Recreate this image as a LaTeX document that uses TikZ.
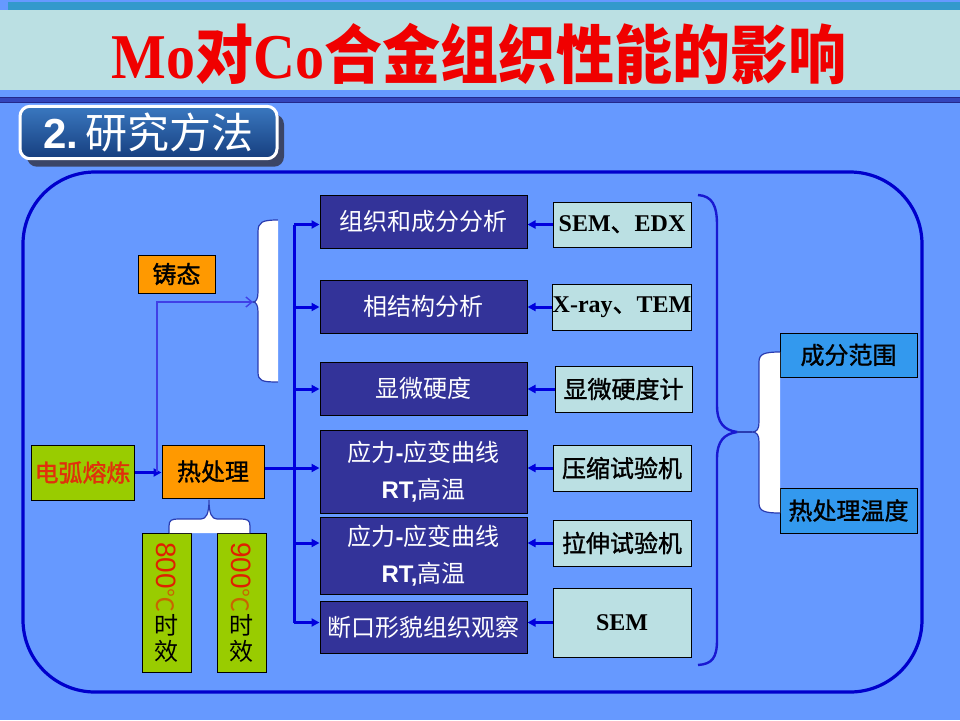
\documentclass[tikz,border=0pt]{standalone}
\usepackage{graphicx}
\usepackage{fontspec}
\setmainfont{Liberation Serif}
\setsansfont{Liberation Sans}
\newfontfamily\cjk{Noto Sans CJK SC}
\newfontfamily\cjkheavy[RawFeature={embolden=1.3}]{Noto Sans CJK SC}
\usetikzlibrary{arrows.meta,positioning,shadows}

\definecolor{slidebg}{HTML}{6699FF}
\definecolor{barcyan}{HTML}{BBE0E3}
\definecolor{bandteal}{HTML}{3399CC}
\definecolor{rulenavy}{HTML}{23288A}
\definecolor{rulemid}{HTML}{3344BB}
\definecolor{titlered}{HTML}{F00000}
\definecolor{darkfill}{HTML}{333399}
\definecolor{lightfill}{HTML}{BBE0E3}
\definecolor{skyfill}{HTML}{3399EE}
\definecolor{orangefill}{HTML}{FF9900}
\definecolor{limefill}{HTML}{99CC00}
\definecolor{linkblue}{HTML}{0000DD}
\definecolor{frameblue}{HTML}{0000CC}
\definecolor{rimblue}{HTML}{2A3CB0}
\definecolor{meltred}{HTML}{E0300C}
\definecolor{digitred}{HTML}{E02000}
\definecolor{degorange}{HTML}{C86400}
\definecolor{methodtop}{HTML}{3A78C0}
\definecolor{methodbot}{HTML}{163E7E}
\definecolor{methodshade}{HTML}{3B4566}

\begin{document}
\begin{tikzpicture}[
  x=0.5pt, y=-0.5pt,
  box/.style={draw=black, line width=0.5pt, inner sep=0pt, align=center},
  darkbox/.style={box, fill=darkfill, text=white, minimum width=103.5pt, font=\cjk\fontsize{12}{18.5}\selectfont},
  toolbox/.style={box, fill=lightfill, text=black, minimum width=69pt, minimum height=23pt, font=\cjkheavy\fontsize{12}{14}\selectfont},
  rangebox/.style={box, fill=skyfill, text=black, minimum width=68.5pt, minimum height=22.5pt, font=\cjkheavy\fontsize{12}{14}\selectfont},
  stagebox/.style={box, fill=orangefill, font=\cjkheavy\fontsize{12}{14}\selectfont},
  agebox/.style={box, fill=limefill, minimum width=24.5pt, minimum height=69.5pt, font=\cjk\fontsize{12}{13}\selectfont},
  arrow/.style={-{Triangle[length=4pt,width=4pt]}, draw=linkblue, line width=1.5pt},
  busline/.style={draw=linkblue, line width=1.5pt},
  thinarrow/.style={-{Straight Barb[length=3pt,width=5pt]}, draw=linkblue!75!white, line width=0.7pt},
  rimline/.style={draw=rimblue, line width=0.6pt, fill=white},
  braceline/.style={draw=frameblue!90!white, line width=1.2pt}
]
\useasboundingbox (0,0) rectangle (960,720);
% slide background and title bar
\fill[slidebg] (0,0) rectangle (960,720);
\fill[barcyan] (0,10) rectangle (960,90);
\fill[bandteal] (8,2) rectangle (960,10);
\fill[rulemid] (0,97) rectangle (960,103);
\draw[rulenavy, line width=0.6pt] (0,97.5) -- (960,97.5) (0,102.5) -- (960,102.5);

\node[inner sep=0pt, text=titlered, font=\cjk\bfseries\fontsize{29}{34}\selectfont] (title) at (479,54)
  {\scalebox{1}[1.1]{{\rmfamily Mo}对{\rmfamily Co}合金组织性能的影响}};

\node[draw=white, line width=1.5pt, rounded corners=5pt, top color=methodtop, bottom color=methodbot,
  minimum width=128.5pt, minimum height=24.5pt, text=white,
  general shadow={fill=methodshade, shadow xshift=3.5pt, shadow yshift=-4pt}] (method) at (148.5,132.5)
  {\fontsize{21}{24}\selectfont{\sffamily\bfseries 2.}\,{\cjk 研究方法}};

% outer frame
\draw[frameblue, line width=1.6pt, rounded corners=36pt] (23,172) rectangle (922,692);

% preparation
\node[box, fill=limefill, text=meltred, minimum width=51.5pt, minimum height=27.5pt,
  font=\cjkheavy\fontsize{12}{14}\selectfont] (melt) at (82.5,472.5) {电弧熔炼};
\node[stagebox, minimum width=38.5pt, minimum height=19pt] (cast) at (176.5,274) {铸态};
\node[stagebox, minimum width=51pt, minimum height=26.5pt] (heat) at (213,471.5) {热处理};
\node[agebox] (age800) at (166.5,602.5)
  {\rotatebox{-90}{{\sffamily\fontsize{14}{14}\selectfont\color{digitred}800}{\color{degorange}℃}}\\时\\效};
\node[agebox] (age900) at (241.5,602.5)
  {\rotatebox{-90}{{\sffamily\fontsize{14}{14}\selectfont\color{digitred}900}{\color{degorange}℃}}\\时\\效};

% tests
\node[darkbox, minimum height=26.5pt] (org) at (423.5,221.5) {组织和成分分析};
\node[darkbox, minimum height=26.5pt] (phase) at (423.5,306.5) {相结构分析};
\node[darkbox, minimum height=26.5pt] (hard) at (423.5,388.5) {显微硬度};
\node[darkbox, minimum height=41.5pt] (ss1) at (423.5,471.5)
  {应力{\sffamily\bfseries -}应变曲线\\{\sffamily\bfseries RT,}高温};
\node[darkbox, minimum height=38.5pt] (ss2) at (423.5,555.5)
  {应力{\sffamily\bfseries -}应变曲线\\{\sffamily\bfseries RT,}高温};
\node[darkbox, minimum height=26pt] (frac) at (423.5,627) {断口形貌组织观察};

% instruments
\node[toolbox, minimum height=22.5pt] (sem) at (622,224.5) {{\rmfamily\bfseries SEM}、{\rmfamily\bfseries EDX}};
\node[toolbox] (xray) at (622,307) {{\rmfamily\bfseries X-ray}、{\rmfamily\bfseries TEM}};
\node[toolbox, minimum width=68.5pt] (micro) at (623.5,389) {显微硬度计};
\node[toolbox] (comp) at (622,468) {压缩试验机};
\node[toolbox] (tens) at (622,543) {拉伸试验机};
\node[toolbox, minimum height=34.5pt] (sem2) at (622,622.5) {{\rmfamily\bfseries SEM}};

% variables
\node[rangebox, minimum height=22pt] (range) at (848.5,355) {成分范围};
\node[rangebox] (htemp) at (848.5,510.5) {热处理温度};

\coordinate (bustop) at (294,224.5);
\coordinate (split) at (157,472);
\coordinate (casttip) at (253,302);

% braces
\draw[rimline] (278,220) .. controls (262,220) and (258,222) .. (258,232) -- (258,292)
  .. controls (258,299) and (256,302) .. (253,302) .. controls (256,302) and (258,305) .. (258,312)
  -- (258,372) .. controls (258,381) and (262,382) .. (278,382);
\draw[rimline] (169,533) -- (169,526) .. controls (169,520) and (172,519) .. (178,519) -- (201,519)
  .. controls (206,519) and (209,514) .. (209,500) .. controls (209,514) and (212,519) .. (217,519)
  -- (241,519) .. controls (247,519) and (250,520) .. (250,526) -- (250,533);
\draw[rimline] (780,352) .. controls (764,352) and (759,354) .. (759,362) -- (759,422)
  .. controls (759,429) and (757,432) .. (752,432) .. controls (757,432) and (759,435) .. (759,442)
  -- (759,503) .. controls (759,511) and (764,513) .. (780,513);
\draw[braceline] (698,195) .. controls (712,196) and (717,205) .. (717,225) -- (717,405)
  .. controls (717,423) and (724,430) .. (737,432) .. controls (724,434) and (717,441) .. (717,459)
  -- (717,640) .. controls (717,658) and (712,664) .. (698,665);
\draw[rimblue, line width=0.6pt] (737,432) -- (752,432);

% connectors
\draw[arrow] (melt.east) -- (melt.east -| heat.west);
\draw[thinarrow] (split) |- (casttip);
\draw[busline] (bustop) -- (bustop |- sem2);
\draw[busline] (heat.east |- comp) -- (bustop |- comp);
\foreach \tool/\test in {sem/org, xray/phase, micro/hard, comp/ss1, tens/ss2, sem2/frac}{
  \draw[arrow] (bustop |- \tool) -- (\tool -| \test.west);
  \draw[arrow] (\tool.west) -- (\tool.west -| \test.east);
}
\end{tikzpicture}
\end{document}
